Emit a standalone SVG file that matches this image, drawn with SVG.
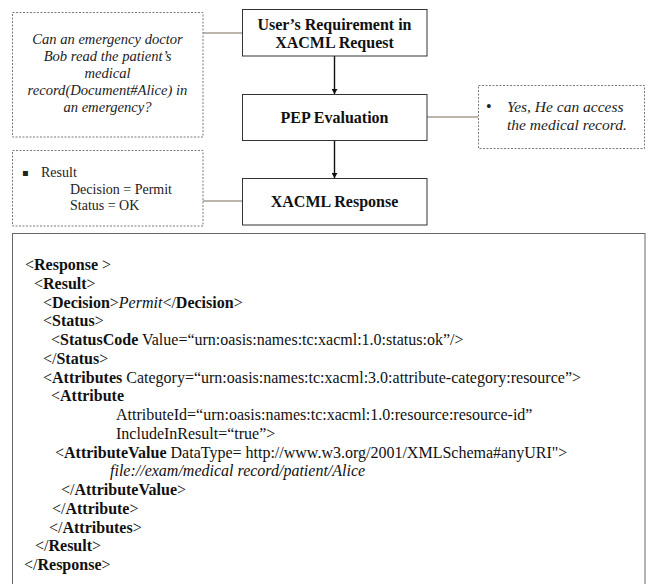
<svg xmlns="http://www.w3.org/2000/svg" width="648" height="584" viewBox="0 0 648 584">
  <style>
    .box { fill: #ffffff; stroke: #333333; stroke-width: 1; }
    .note { fill: #ffffff; stroke: #7a7a7a; stroke-width: 1; stroke-dasharray: 2 1.5; }
    .link { stroke: #7d6a58; stroke-width: 1.2; fill: none; }
    .flow { stroke: #111111; stroke-width: 1.4; fill: none; }
    .title { font-family: "Liberation Serif", "Times New Roman", serif; font-size: 16px; font-weight: bold; fill: #111111; text-anchor: middle; }
    .q { font-family: "Liberation Serif", "Times New Roman", serif; font-size: 14.6px; font-style: italic; fill: #222222; }
    .plain { font-family: "Liberation Serif", "Times New Roman", serif; font-size: 14px; fill: #222222; }
    .code { font-family: "Liberation Serif", "Times New Roman", serif; font-size: 16px; fill: #111111; }
    .b { font-weight: bold; }
    .i { font-style: italic; }
    .frame { fill: #ffffff; stroke: #666666; stroke-width: 1; }
  </style>
  <defs>
    <marker id="arrow" viewBox="0 0 10 10" refX="10" refY="5" markerWidth="5" markerHeight="6" markerUnits="userSpaceOnUse" orient="auto" preserveAspectRatio="none">
      <path d="M0,0 L10,5 L0,10 z" fill="#111111"/>
    </marker>
  </defs>

  <rect width="648" height="584" fill="#ffffff"/>

  <!-- connectors -->
  <g id="connectors">
    <line class="link" x1="203" y1="33" x2="242" y2="33"/>
    <line class="link" x1="427" y1="117" x2="478" y2="117"/>
    <line class="link" x1="203" y1="201" x2="242" y2="201"/>
    <line class="flow" x1="334.5" y1="56" x2="334.5" y2="94" marker-end="url(#arrow)"/>
    <line class="flow" x1="334.5" y1="141" x2="334.5" y2="178" marker-end="url(#arrow)"/>
  </g>

  <!-- question note -->
  <g id="question">
    <rect class="note" x="12.5" y="12.5" width="190.5" height="124.5"/>
    <text class="q" x="107.5" y="44" text-anchor="middle">Can an emergency doctor</text>
    <text class="q" x="107.5" y="61" text-anchor="middle">Bob read the patient’s</text>
    <text class="q" x="107.5" y="78" text-anchor="middle">medical</text>
    <text class="q" x="107.5" y="95" text-anchor="middle">record(Document#Alice) in</text>
    <text class="q" x="107.5" y="112" text-anchor="middle">an emergency?</text>
  </g>

  <!-- request node -->
  <g id="request">
    <rect class="box" x="242.5" y="9.5" width="184.5" height="46.5"/>
    <text class="title" x="334.5" y="30">User’s Requirement in</text>
    <text class="title" x="334.5" y="48">XACML Request</text>
  </g>

  <!-- evaluation node -->
  <g id="evaluation">
    <rect class="box" x="242.5" y="94.5" width="184.5" height="46"/>
    <text class="title" x="334.5" y="123">PEP Evaluation</text>
  </g>

  <!-- answer note -->
  <g id="answer">
    <rect class="note" x="478.5" y="85.5" width="166" height="63"/>
    <text class="q" x="486" y="112" style="font-style:normal;font-family:'Liberation Serif',serif;font-size:16px">•</text>
    <text class="q" x="507" y="112" style="font-size:15.5px">Yes, He can access</text>
    <text class="q" x="507" y="130" style="font-size:15.5px">the medical record.</text>
  </g>

  <!-- response node -->
  <g id="response">
    <rect class="box" x="242.5" y="178.5" width="184.5" height="46.5"/>
    <text class="title" x="334.5" y="207">XACML Response</text>
  </g>

  <!-- result note -->
  <g id="result">
    <rect class="note" x="12.5" y="150.5" width="190.5" height="75.5"/>
    <text class="plain" x="22" y="176" style="font-family:'DejaVu Sans',sans-serif;font-size:10px">▪</text>
    <text class="plain" x="41" y="177">Result</text>
    <text class="plain" x="70" y="194">Decision = Permit</text>
    <text class="plain" x="70" y="210">Status = OK</text>
  </g>

  <!-- XML response listing -->
  <g id="listing">
    <rect class="frame" x="12.5" y="233.5" width="632.5" height="360"/>
    <text class="code" x="25" y="270">&lt;<tspan class="b">Response</tspan> &gt;</text>
    <text class="code" x="34" y="288.75">&lt;<tspan class="b">Result</tspan>&gt;</text>
    <text class="code" x="43" y="307.5">&lt;<tspan class="b">Decision</tspan>&gt;<tspan class="i">Permit</tspan>&lt;/<tspan class="b">Decision</tspan>&gt;</text>
    <text class="code" x="43" y="326.25">&lt;<tspan class="b">Status</tspan>&gt;</text>
    <text class="code" x="51" y="345">&lt;<tspan class="b">StatusCode</tspan> Value=“urn:oasis:names:tc:xacml:1.0:status:ok”/&gt;</text>
    <text class="code" x="43" y="363.75">&lt;/<tspan class="b">Status</tspan>&gt;</text>
    <text class="code" x="43" y="382.5">&lt;<tspan class="b">Attributes</tspan> Category=“urn:oasis:names:tc:xacml:3.0:attribute-category:resource”&gt;</text>
    <text class="code" x="51" y="401.25">&lt;<tspan class="b">Attribute</tspan></text>
    <text class="code" x="116" y="420">AttributeId=“urn:oasis:names:tc:xacml:1.0:resource:resource-id”</text>
    <text class="code" x="116" y="438.75">IncludeInResult=“true”&gt;</text>
    <text class="code" x="55" y="457.5">&lt;<tspan class="b">AttributeValue</tspan> DataType= http://www.w3.org/2001/XMLSchema#anyURI"&gt;</text>
    <text class="code i" x="110" y="476.25">file://exam/medical record/patient/Alice</text>
    <text class="code" x="61" y="495">&lt;/<tspan class="b">AttributeValue</tspan>&gt;</text>
    <text class="code" x="52" y="513.75">&lt;/<tspan class="b">Attribute</tspan>&gt;</text>
    <text class="code" x="49" y="532.5">&lt;/<tspan class="b">Attributes</tspan>&gt;</text>
    <text class="code" x="35" y="551.25">&lt;/<tspan class="b">Result</tspan>&gt;</text>
    <text class="code" x="24" y="570">&lt;/<tspan class="b">Response</tspan>&gt;</text>
  </g>
</svg>
